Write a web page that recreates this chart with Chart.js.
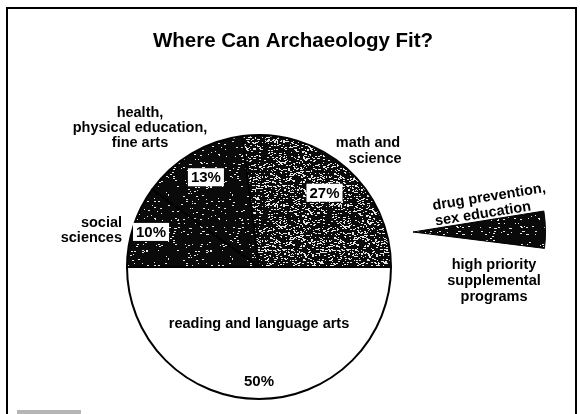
<!DOCTYPE html>
<html><head><meta charset="utf-8">
<script src="https://cdn.jsdelivr.net/npm/chart.js@4.4.1/dist/chart.umd.min.js"></script>
<style>
html,body{margin:0;padding:0;background:#fff;width:580px;height:414px;overflow:hidden;}
#wrap{position:relative;width:580px;height:414px;}
canvas{position:absolute;left:0;top:0;}
#frame{position:absolute;left:6px;top:7px;width:571px;height:430px;border:2px solid #000;box-sizing:border-box;}
#mark{position:absolute;left:17px;top:410px;width:64px;height:4px;background:#b5b5b5;}
</style></head><body>
<div id="wrap">
<div id="frame"></div>
<div id="mark"></div>
<canvas id="pie" width="580" height="414"></canvas>
<canvas id="wedge" width="580" height="414"></canvas>
</div>
<script>
// ---- data ----
const chartTitle = 'Where Can Archaeology Fit?';
const categories = ['reading and language arts', 'social sciences', 'health, physical education, fine arts', 'math and science'];
const shares = [50, 10, 13, 27];
const shareLabels = ['50%', '10%', '13%', '27%'];
const sideCategory = 'drug prevention, sex education / high priority supplemental programs';
const sideShare = [4.5];

// ---- textures (deterministic speckle) ----
function hash(x, y, s) {
  let n = Math.imul(x, 374761393) ^ Math.imul(y, 668265263) ^ Math.imul(s, 2246822519);
  n = Math.imul(n ^ (n >>> 13), 1274126177);
  n = n ^ (n >>> 16);
  return (n >>> 0) / 4294967296;
}
function speckle(density, seed) {
  const c = document.createElement('canvas');
  c.width = 64; c.height = 64;
  const g = c.getContext('2d');
  const img = g.createImageData(64, 64);
  for (let y = 0; y < 64; y++) for (let x = 0; x < 64; x++) {
    const h = hash(x, y, seed);
    const h2 = hash(x - 1, y, seed);
    const white = h < density || (h2 < density * 0.6);
    const v = white ? 230 : 10;
    const i = (y * 64 + x) * 4;
    img.data[i] = v; img.data[i + 1] = v; img.data[i + 2] = v; img.data[i + 3] = 255;
  }
  g.putImageData(img, 0, 0);
  return g.createPattern(c, 'repeat');
}
const darkFill = speckle(0.03, 3);
const greyFill = speckle(0.15, 7);

const FONT = '"Liberation Sans", Arial, Helvetica, sans-serif';

// ---- main pie ----
const pctRadius = [0.86, 0.86, 0.79, 0.75];
const textPlugin = {
  id: 'texts',
  afterDraw(chart) {
    const ctx = chart.ctx;
    ctx.save();
    ctx.fillStyle = '#000';
    ctx.textBaseline = 'middle';
    ctx.textAlign = 'center';
    ctx.font = 'bold 20.5px ' + FONT;
    ctx.fillText(chartTitle, 293, 41);

    ctx.font = 'bold 14.5px ' + FONT;
    // outside category labels
    const lines = [
      ['health,', 140, 113, 'center'],
      ['physical education,', 140, 128, 'center'],
      ['fine arts', 140, 143, 'center'],
      ['social', 122, 223, 'right'],
      ['sciences', 122, 238, 'right'],
      ['math and', 368, 143, 'center'],
      ['science', 375, 159, 'center']
    ];
    lines.forEach(l => { ctx.textAlign = l[3]; ctx.fillText(l[0], l[1], l[2]); });

    // labels inside slices
    const meta = chart.getDatasetMeta(0);
    meta.data.forEach((arc, i) => {
      const p = arc.getProps(['x', 'y', 'startAngle', 'endAngle', 'outerRadius'], true);
      const mid = (p.startAngle + p.endAngle) / 2;
      const r = p.outerRadius * pctRadius[i];
      const px = p.x + Math.cos(mid) * r;
      const py = p.y + Math.sin(mid) * r;
      ctx.font = 'bold 15px ' + FONT;
      ctx.textAlign = 'center';
      if (i > 0) {
        const w = ctx.measureText(shareLabels[i]).width + 6;
        ctx.fillStyle = '#fff';
        ctx.fillRect(px - w / 2, py - 9, w, 18);
        ctx.fillStyle = '#000';
      }
      ctx.fillText(shareLabels[i], px, py + 1);
      if (i === 0) {
        ctx.font = 'bold 14.5px ' + FONT;
        ctx.fillText(categories[0], px, p.y + p.outerRadius * 0.43);
      }
    });
    ctx.restore();
  }
};

new Chart(document.getElementById('pie'), {
  type: 'pie',
  data: {
    labels: categories,
    datasets: [{
      data: shares,
      backgroundColor: ['#ffffff', darkFill, darkFill, greyFill],
      borderColor: '#000',
      borderWidth: 2
    }]
  },
  options: {
    responsive: false,
    animation: false,
    events: [],
    rotation: 90,
    layout: { padding: { left: 126, right: 188, top: 134, bottom: 14 } },
    plugins: { legend: { display: false }, tooltip: { enabled: false } }
  },
  plugins: [textPlugin]
});

// ---- detached wedge ----
const wedgeText = {
  id: 'wedgeText',
  afterDraw(chart) {
    const ctx = chart.ctx;
    ctx.save();
    ctx.fillStyle = '#000';
    ctx.textAlign = 'center';
    ctx.textBaseline = 'middle';
    ctx.font = 'bold 14.5px ' + FONT;
    const rot = [['drug prevention,', 489, 197], ['sex education', 483, 214]];
    rot.forEach(l => {
      ctx.save();
      ctx.translate(l[1], l[2]);
      ctx.rotate(-9 * Math.PI / 180);
      ctx.fillText(l[0], 0, 0);
      ctx.restore();
    });
    [['high priority', 494, 265], ['supplemental', 494, 281], ['programs', 494, 297]]
      .forEach(l => ctx.fillText(l[0], l[1], l[2]));
    ctx.restore();
  }
};

new Chart(document.getElementById('wedge'), {
  type: 'pie',
  data: {
    labels: [sideCategory, ''],
    datasets: [{
      data: [sideShare[0], 100 - sideShare[0]],
      backgroundColor: [darkFill, 'rgba(0,0,0,0)'],
      borderColor: ['#000', 'rgba(0,0,0,0)'],
      borderWidth: [1, 0]
    }]
  },
  options: {
    responsive: false,
    animation: false,
    events: [],
    rotation: 90 - 1 - sideShare[0] * 3.6 / 2,
    layout: { padding: { left: 280, right: 34, top: 99, bottom: 49 } },
    plugins: { legend: { display: false }, tooltip: { enabled: false } }
  },
  plugins: [wedgeText]
});
</script>
</body></html>
